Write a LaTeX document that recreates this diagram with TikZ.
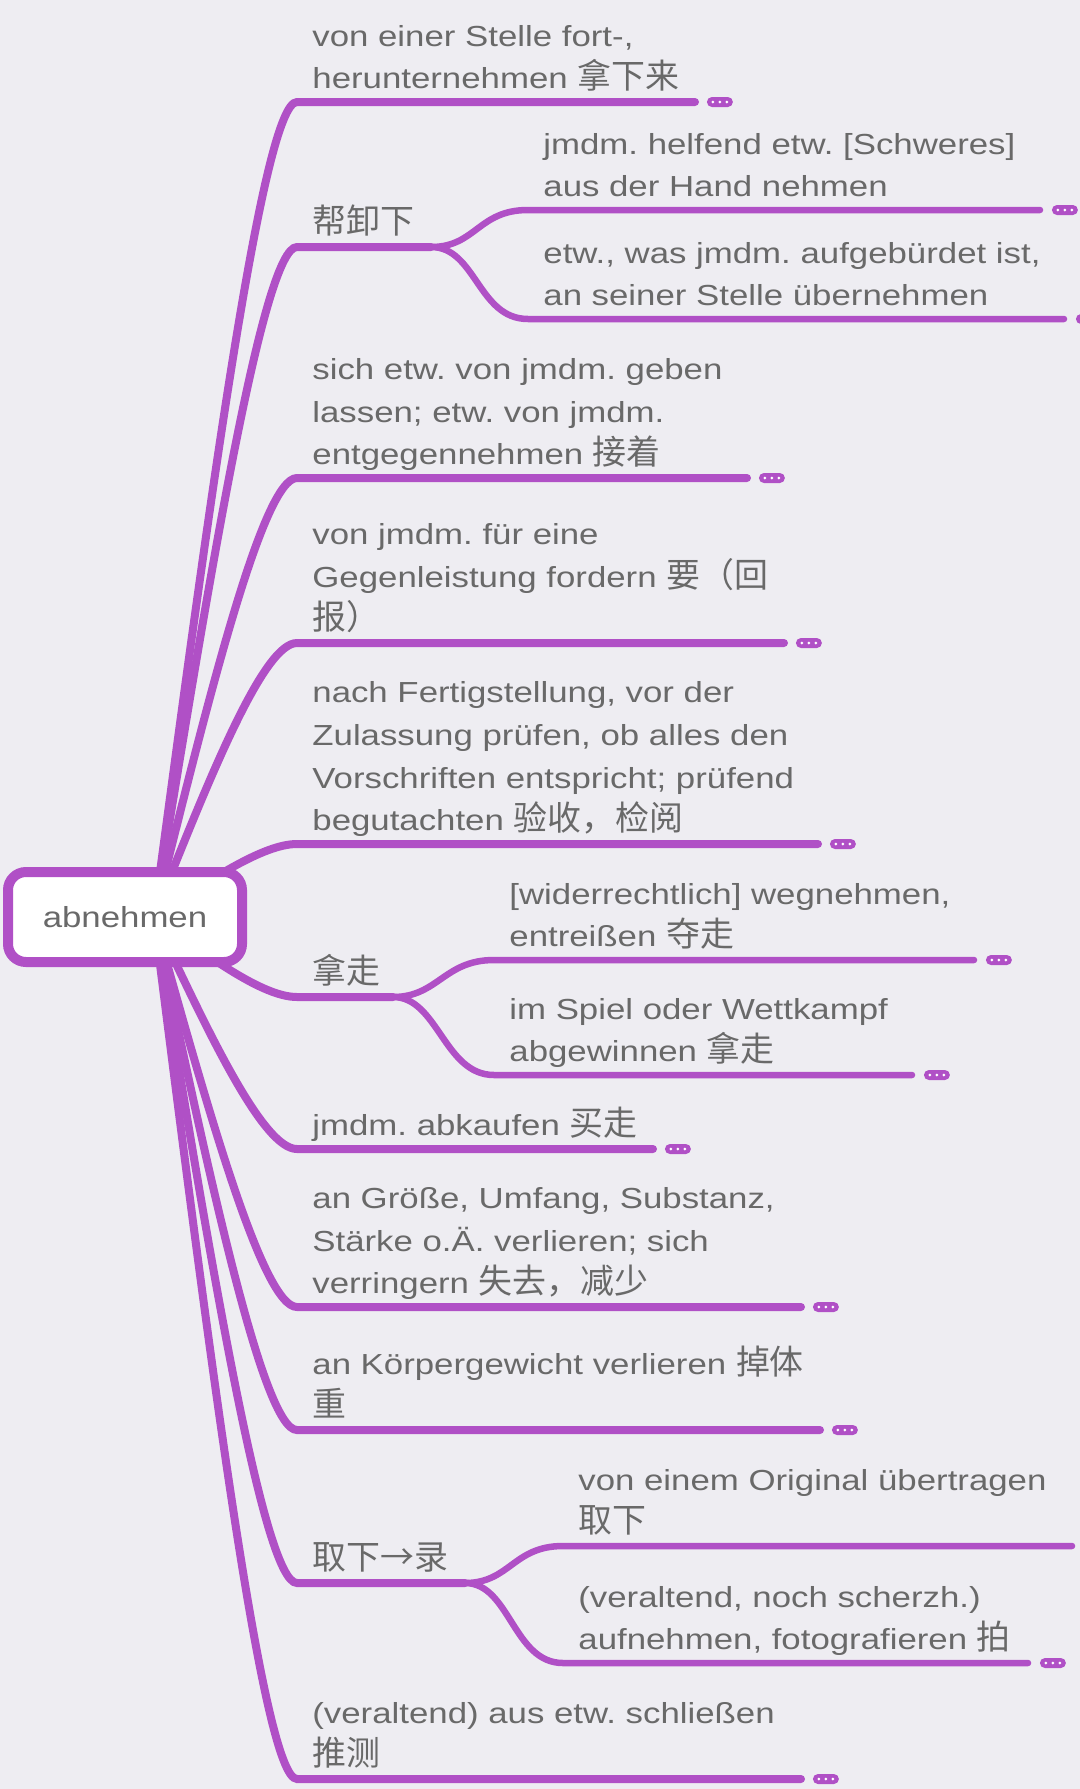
\documentclass[tikz,border=0pt]{standalone}
\usepackage{fontspec}
\usepackage{tikz}
\usetikzlibrary{positioning,calc,backgrounds}
\setmainfont{Liberation Sans}[FakeStretch=1.2]
\newfontfamily\hzfont{Noto Sans CJK SC}[Scale=1.17]
\newcommand{\hz}[1]{{\hzfont #1}}
\newcommand{\mapfont}{\fontsize{14.5}{21.3}\selectfont\frenchspacing}
\definecolor{mindpurple}{RGB}{176, 80, 198}
\definecolor{mindgray}{RGB}{105, 105, 105}
\definecolor{mindbg}{RGB}{238, 237, 242}
\tikzset{
  root/.style={draw=mindpurple, line width=5pt, fill=white, rounded corners=9pt,
    minimum width=117pt, minimum height=45pt, text=mindgray, font=\mapfont},
  topic/.style={anchor=south west, align=left, inner xsep=7.5pt, inner ysep=0.1pt,
    text=mindgray, font=\mapfont, execute at end node=\strut},
  branch/.style={mindpurple, line width=4pt, line cap=round},
  twig/.style={mindpurple, line width=3.25pt, line cap=round},
  more/.style={fill=mindpurple, rounded corners=2.5pt, minimum width=13pt,
    minimum height=5pt, inner sep=0pt,
    path picture={\foreach \d in {-1,0,1}
      \fill[white] ([xshift=\d*3.5pt]path picture bounding box.center) circle (0.75pt);}}
}

\begin{document}
\begin{tikzpicture}[x=0.5pt, y=-0.5pt]
\useasboundingbox (0,0) rectangle (1080,1789);
% central topic
\node[root] (root) at (125,917) {abnehmen};
\coordinate (hub) at ($(root)+(29,0)$);
% main topics
\node[topic] (b1) at (297,102) {von einer Stelle fort-,\\herunternehmen \hz{拿下来}};
\node[topic] (b2) at (297,247) {\hz{帮卸下}};
\node[topic] (b3) at (297,478) {sich etw. von jmdm. geben\\lassen; etw. von jmdm.\\entgegennehmen \hz{接着}};
\node[topic] (b4) at (297,643) {von jmdm. für eine\\Gegenleistung fordern \hz{要（回}\\\hz{报）}};
\node[topic] (b5) at (297,844) {nach Fertigstellung, vor der\\Zulassung prüfen, ob alles den\\Vorschriften entspricht; prüfend\\begutachten \hz{验收，检阅}};
\node[topic] (b6) at (297,997) {\hz{拿走}};
\node[topic] (b7) at (297,1149) {jmdm. abkaufen \hz{买走}};
\node[topic] (b8) at (297,1307) {an Größe, Umfang, Substanz,\\Stärke o.Ä. verlieren; sich\\verringern \hz{失去，减少}};
\node[topic] (b9) at (297,1430) {an Körpergewicht verlieren \hz{掉体}\\\hz{重}};
\node[topic] (b10) at (297,1583) {\hz{取下→录}};
\node[topic] (b11) at (297,1779) {(veraltend) aus etw. schließen\\\hz{推测}};
% sub topics
\node[topic] (c2a) at (528,210) {jmdm. helfend etw. [Schweres]\\aus der Hand nehmen};
\node[topic] (c2b) at (528,319) {etw., was jmdm. aufgebürdet ist,\\an seiner Stelle übernehmen};
\node[topic] (c6a) at (494,960) {[widerrechtlich] wegnehmen,\\entreißen \hz{夺走}};
\node[topic] (c6b) at (494,1075) {im Spiel oder Wettkampf\\abgewinnen \hz{拿走}};
\node[topic] (c10a) at (563,1546) {von einem Original übertragen\\\hz{取下}};
\node[topic] (c10b) at (563,1663) {(veraltend, noch scherzh.)\\aufnehmen, fotografieren \hz{拍}};

\begin{scope}[on background layer]
\fill[mindbg] (0,0) rectangle (1080,1789);
% branches from the central topic
\foreach \n/\len in {b1/398, b2/134, b3/450, b4/487, b5/521, b6/96, b7/356, b8/504, b9/523, b10/168, b11/504} {
    \coordinate (\n-bend) at ($(\n.south west)+(-34,0)$);
    \draw[branch] (hub) .. controls ($(hub)!0.5!(\n-bend)$) and (\n-bend) .. (\n.south west) -- ++(\len,0) coordinate (\n-end);
}
% forks to the sub topics
\foreach \p/\c/\len in {b2/c2a/512, b2/c2b/536, b6/c6a/480, b6/c6b/418, b10/c10a/509, b10/c10b/465} {
    \draw[twig] (\p-end) .. controls +(45,0) and +(-50,0) .. (\c.south west) -- ++(\len,0) coordinate (\c-end);
}
\end{scope}
% folded markers
\foreach \n in {b1, b3, b4, b5, b7, b8, b9, b11, c2a, c2b, c6a, c6b, c10b}
    \node[more, right=5.75pt of \n-end] (\n-more) {};
\end{tikzpicture}
\end{document}
